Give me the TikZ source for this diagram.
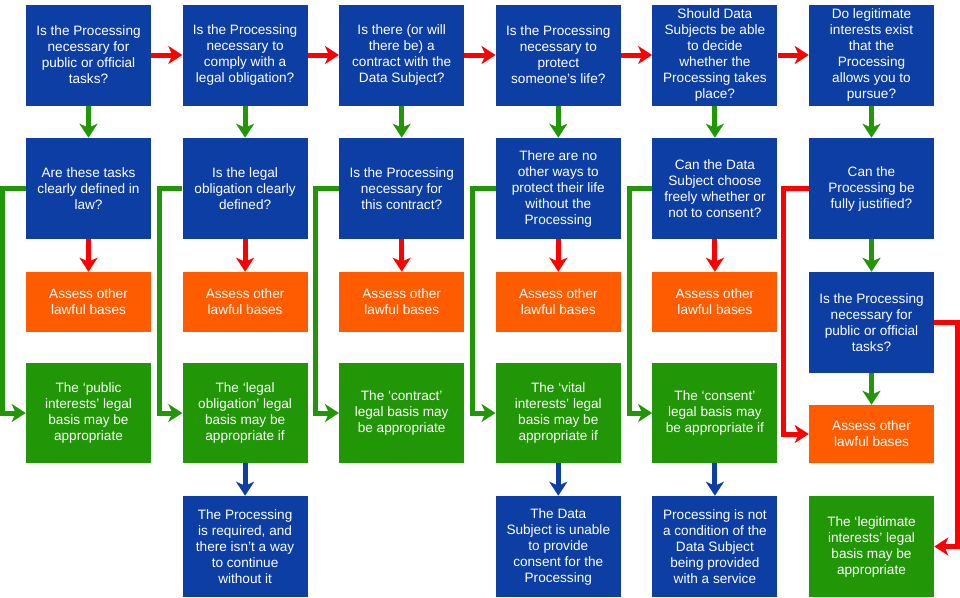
\documentclass[tikz,border=0pt]{standalone}
\usepackage{fontspec}
\setmainfont{Liberation Sans}
\usetikzlibrary{arrows.meta}

\definecolor{boxblue}{RGB}{12,62,163}
\definecolor{boxorange}{RGB}{255,92,0}
\definecolor{boxgreen}{RGB}{33,150,6}
\definecolor{arrred}{RGB}{255,0,0}
\definecolor{arrgreen}{RGB}{33,150,6}
\definecolor{arrblue}{RGB}{12,62,163}

\begin{document}
\begin{tikzpicture}[x=0.75pt,y=-0.75pt,
  box/.style={inner sep=0pt,minimum width=93.75pt,text=white,align=center,
    font=\fontsize{10.2}{12}\selectfont},
  qbox/.style={box,fill=boxblue,minimum height=75.75pt},
  nobox/.style={box,fill=boxorange,minimum height=45pt},
  yesbox/.style={box,fill=boxgreen,minimum height=75pt},
  arr/.style={line width=3.75pt,-{Stealth[length=10.5pt,width=13.5pt,inset=3pt]}},
  yes/.style={arr,arrgreen},
  no/.style={arr,arrred},
  cond/.style={arr,arrblue}]
\useasboundingbox (0,0) rectangle (960,597);

% First questions
\node[qbox] (q1) at (88.5,55) {Is the Processing\\necessary for\\public or official\\tasks?};
\node[qbox] (q2) at (245.1,55) {Is the Processing\\necessary to\\comply with a\\legal obligation?};
\node[qbox] (q3) at (401.7,55) {Is there (or will\\there be) a\\contract with the\\Data Subject?};
\node[qbox] (q4) at (558.3,55) {Is the Processing\\necessary to\\protect\\someone’s life?};
\node[qbox] (q5) at (714.9,55) {Should Data\\Subjects be able\\to decide\\whether the\\Processing takes\\place?};
\node[qbox] (q6) at (871.5,55) {Do legitimate\\interests exist\\that the\\Processing\\allows you to\\pursue?};

% Second questions
\node[qbox] (c1) at (88.5,188.5) {Are these tasks\\clearly defined in\\law?};
\node[qbox] (c2) at (245.1,188.5) {Is the legal\\obligation clearly\\defined?};
\node[qbox] (c3) at (401.7,188.5) {Is the Processing\\necessary for\\this contract?};
\node[qbox] (c4) at (558.3,188.5) {There are no\\other ways to\\protect their life\\without the\\Processing};
\node[qbox] (c5) at (714.9,188.5) {Can the Data\\Subject choose\\freely whether or\\not to consent?};
\node[qbox] (c6) at (871.5,188.5) {Can the\\Processing be\\fully justified?};
\node[qbox] (p6) at (871.5,322.5) {Is the Processing\\necessary for\\public or official\\tasks?};

% Other bases
\node[nobox] (a1) at (88.5,302) {Assess other\\lawful bases};
\node[nobox] (a2) at (245.1,302) {Assess other\\lawful bases};
\node[nobox] (a3) at (401.7,302) {Assess other\\lawful bases};
\node[nobox] (a4) at (558.3,302) {Assess other\\lawful bases};
\node[nobox] (a5) at (714.9,302) {Assess other\\lawful bases};
\node[nobox,minimum height=43.5pt] (a6) at (871.5,434) {Assess other\\lawful bases};

% Legal bases
\node[yesbox] (b1) at (88.5,413) {The ‘public\\interests’ legal\\basis may be\\appropriate};
\node[yesbox] (b2) at (245.1,413) {The ‘legal\\obligation’ legal\\basis may be\\appropriate if};
\node[yesbox] (b3) at (401.7,413) {The ‘contract’\\legal basis may\\be appropriate};
\node[yesbox] (b4) at (558.3,413) {The ‘vital\\interests’ legal\\basis may be\\appropriate if};
\node[yesbox] (b5) at (714.9,413) {The ‘consent’\\legal basis may\\be appropriate if};
\node[yesbox,minimum height=75.75pt] (b6) at (871.5,546.5) {The ‘legitimate\\interests’ legal\\basis may be\\appropriate};

% Conditions
\node[qbox] (d2) at (245.1,546.5) {The Processing\\is required, and\\there isn’t a way\\to continue\\without it};
\node[qbox] (d4) at (558.3,546.5) {The Data\\Subject is unable\\to provide\\consent for the\\Processing};
\node[qbox] (d5) at (714.9,546.5) {Processing is not\\a condition of the\\Data Subject\\being provided\\with a service};

% No: next question
\foreach \i/\j in {1/2,2/3,3/4,4/5,5/6}
  \draw[no] (q\i.east) -- (q\j.west);

% Yes: second question
\foreach \i in {1,...,6}
  \draw[yes] (q\i.south) -- (c\i.north);

% No: other bases
\foreach \i in {1,...,5}
  \draw[no] (c\i.south) -- (a\i.north);

% Yes: legal basis
\foreach \i in {1,...,5}
  \draw[yes] (c\i.west) -- ++(-23,0) |- (b\i.west);

% Conditions
\foreach \i in {2,4,5}
  \draw[cond] (b\i.south) -- (d\i.north);

% Legitimate interests column
\draw[yes] (c6.south) -- (p6.north);
\draw[yes] (p6.south) -- (a6.north);
\draw[no] (c6.west) -- ++(-25,0) |- (a6.west);
\draw[no] (p6.east) -- ++(23,0) |- (b6.east);

\end{tikzpicture}
\end{document}
